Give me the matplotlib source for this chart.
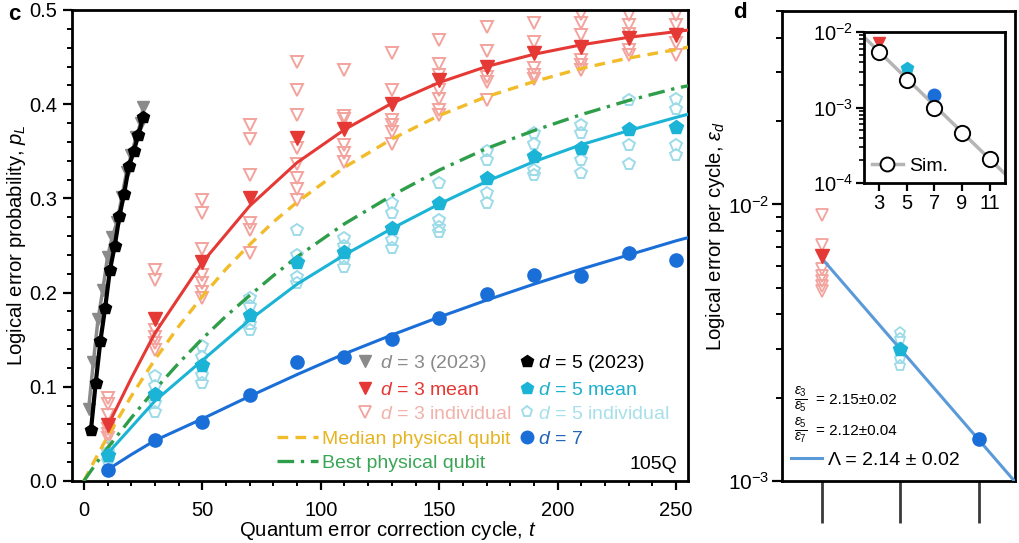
import matplotlib
matplotlib.use('Agg')
import matplotlib.pyplot as plt
from matplotlib.lines import Line2D
from matplotlib.ticker import MultipleLocator, FormatStrFormatter, NullFormatter, FixedLocator

plt.rcParams['font.family'] = ['Liberation Sans', 'DejaVu Sans']
plt.rcParams['mathtext.fontset'] = 'custom'
plt.rcParams['mathtext.rm'] = 'Liberation Sans'
plt.rcParams['mathtext.it'] = 'Liberation Sans:italic'
plt.rcParams['mathtext.bf'] = 'Liberation Sans:bold'

# ---------------- data: panel c ----------------
t_cycles = [10, 30, 50, 70, 90, 110, 130, 150, 170, 190, 210, 230, 250]
d3_mean = [0.059, 0.172, 0.232, 0.300, 0.364, 0.374, 0.400, 0.426, 0.440, 0.454, 0.461, 0.470, 0.473]
d5_mean = [0.028, 0.092, 0.123, 0.176, 0.232, 0.243, 0.269, 0.295, 0.322, 0.345, 0.354, 0.374, 0.376]
d7_vals = [0.012, 0.044, 0.063, 0.091, 0.126, 0.132, 0.151, 0.173, 0.199, 0.219, 0.218, 0.242, 0.235]

d3_individual = [
    [0.088, 0.082, 0.070, 0.055, 0.050, 0.046],
    [0.224, 0.213, 0.160, 0.153, 0.147, 0.139],
    [0.298, 0.285, 0.246, 0.219, 0.210, 0.201, 0.194],
    [0.378, 0.363, 0.325, 0.274, 0.266, 0.242],
    [0.445, 0.415, 0.388, 0.353, 0.336, 0.322, 0.310, 0.298],
    [0.436, 0.387, 0.384, 0.357, 0.348, 0.339],
    [0.454, 0.415, 0.383, 0.378, 0.371, 0.358],
    [0.468, 0.443, 0.431, 0.415, 0.405, 0.394, 0.389],
    [0.482, 0.456, 0.429, 0.424, 0.404],
    [0.486, 0.466, 0.438, 0.431, 0.427],
    [0.496, 0.486, 0.473, 0.447, 0.442, 0.436],
    [0.495, 0.484, 0.475, 0.458, 0.452],
    [0.495, 0.484, 0.465, 0.452],
]
d5_individual = [
    [0.036, 0.031, 0.025, 0.021],
    [0.111, 0.101, 0.083, 0.073],
    [0.143, 0.132, 0.112, 0.104],
    [0.194, 0.186, 0.167, 0.160],
    [0.266, 0.240, 0.217, 0.210],
    [0.258, 0.249, 0.236, 0.227],
    [0.295, 0.284, 0.256, 0.247],
    [0.316, 0.277, 0.270, 0.264],
    [0.350, 0.341, 0.306, 0.295],
    [0.369, 0.358, 0.330, 0.325],
    [0.378, 0.369, 0.341, 0.327],
    [0.404, 0.357, 0.337],
    [0.406, 0.395, 0.357, 0.346],
]

fit_t = [10, 20, 30, 50, 70, 90, 110, 130, 150, 170, 190, 210, 230, 250, 256]
d3_fit = [0.058, 0.109, 0.157, 0.232, 0.292, 0.338, 0.373, 0.401, 0.423, 0.440, 0.453, 0.463, 0.471, 0.477, 0.479]
d5_fit = [0.029, 0.057, 0.085, 0.128, 0.171, 0.209, 0.240, 0.268, 0.294, 0.318, 0.339, 0.357, 0.372, 0.386, 0.390]
d7_fit = [0.012, 0.028, 0.043, 0.066, 0.090, 0.113, 0.135, 0.155, 0.174, 0.192, 0.209, 0.225, 0.240, 0.255, 0.259]

phys_t = [0, 5, 10, 20, 30, 40, 50, 60, 70, 80, 90, 110, 130, 150, 170, 190, 210, 230, 250, 256]
median_phys = [0.0, 0.024, 0.047, 0.090, 0.129, 0.164, 0.196, 0.225, 0.251, 0.275, 0.296, 0.333, 0.363,
               0.388, 0.408, 0.424, 0.438, 0.449, 0.458, 0.461]
best_phys = [0.0, 0.018, 0.035, 0.067, 0.097, 0.125, 0.151, 0.175, 0.197, 0.218, 0.238, 0.273, 0.303,
             0.330, 0.353, 0.372, 0.389, 0.404, 0.417, 0.420]

t_2023_d5 = [3, 5, 7, 9, 11, 13, 15, 17, 19, 21, 23, 25]
p_2023_d5 = [0.054, 0.104, 0.149, 0.184, 0.224, 0.249, 0.281, 0.305, 0.334, 0.350, 0.367, 0.386]
t_2023_d3 = [2, 4, 6, 8, 10, 12, 14, 16, 18, 20, 22, 24, 25]
p_2023_d3 = [0.076, 0.126, 0.172, 0.203, 0.238, 0.259, 0.275, 0.301, 0.328, 0.346, 0.365, 0.380, 0.397]

# ---------------- data: panel d ----------------
distances = [3, 5, 7]
eps_mean = [6.5e-3, 3.0e-3, 1.42e-3]
eps3_individual = [9.18e-3, 7.16e-3, 5.82e-3, 5.51e-3, 5.28e-3, 5.07e-3, 4.87e-3]
eps5_individual = [3.44e-3, 3.26e-3, 2.76e-3, 2.61e-3]
lambda_fit_d = [3, 8]
lambda_fit_eps = [6.4e-3, 9.57e-4]

sim_d = [3, 5, 7, 9, 11]
sim_eps = [5.4e-3, 2.3e-3, 9.8e-4, 4.6e-4, 2.1e-4]
sim_fit_d = [1.9, 12.1]
sim_fit_eps = [8.6e-3, 1.33e-4]
inset_exp_eps = [7.1e-3, 3.3e-3, 1.47e-3]

# ---------------- colours ----------------
red = '#e53935'
salmon = '#f3a39d'
grey = '#8a8a8a'
cyan = '#1bb3d6'
lcyan = '#9ddbe8'
blue7 = '#1a6ed8'
yellow = '#f2bb2a'
green = '#2f9e4a'
lamblue = '#5a9ad8'

fs_tick = 14.5
fs_lab = 14.6

fig = plt.figure(figsize=(10.2, 5.43), dpi=100)
axc = fig.add_axes([0.0706, 0.1142, 0.6039, 0.8674])
axd = fig.add_axes([0.7667, 0.1142, 0.2284, 0.8655])
axi = fig.add_axes([0.847, 0.663, 0.138, 0.278])

# ---------------- panel c ----------------
for t, vals in zip(t_cycles, d3_individual):
    axc.plot([t] * len(vals), vals, ls='none', marker='v', ms=8.5, mfc='none', mec=salmon, mew=1.4, zorder=2)
for t, vals in zip(t_cycles, d5_individual):
    axc.plot([t] * len(vals), vals, ls='none', marker='p', ms=8.5, mfc='none', mec=lcyan, mew=1.4, zorder=2)

axc.plot(phys_t, median_phys, ls=(0, (3.2, 2.2)), color=yellow, lw=2.4, zorder=3)
axc.plot(phys_t, best_phys, ls=(0, (5, 2, 1, 2)), color=green, lw=2.4, zorder=3)

axc.plot(fit_t, d3_fit, color=red, lw=2.2, zorder=4)
axc.plot(fit_t, d5_fit, color=cyan, lw=2.2, zorder=4)
axc.plot(fit_t, d7_fit, color=blue7, lw=2.2, zorder=4)

axc.plot(t_cycles, d3_mean, ls='none', marker='v', ms=10, color=red, zorder=5)
axc.plot(t_cycles, d5_mean, ls='none', marker='p', ms=10, color=cyan, zorder=5)
axc.plot(t_cycles, d7_vals, ls='none', marker='o', ms=9.5, color=blue7, zorder=5)

axc.plot(t_2023_d3, p_2023_d3, color=grey, lw=2.5, marker='v', ms=8, zorder=5)
axc.plot(t_2023_d5, p_2023_d5, color='black', lw=3, marker='p', ms=9, zorder=6)

axc.set_xlim(-5, 255)
axc.set_ylim(0, 0.5)
axc.xaxis.set_major_locator(MultipleLocator(50))
axc.xaxis.set_minor_locator(MultipleLocator(10))
axc.yaxis.set_major_locator(MultipleLocator(0.1))
axc.yaxis.set_minor_locator(MultipleLocator(0.02))
axc.yaxis.set_major_formatter(FormatStrFormatter('%.1f'))
axc.tick_params(which='major', direction='out', length=6.5, width=1.6, labelsize=fs_tick, pad=4)
axc.tick_params(axis='x', which='major', pad=8)
axc.tick_params(which='minor', direction='out', length=3.5, width=1.4)
for s in axc.spines.values():
    s.set_linewidth(2)
axc.set_xlabel('Quantum error correction cycle, $t$', fontsize=fs_lab)
axc.set_ylabel('Logical error probability, $p_L$', fontsize=fs_lab)
axc.xaxis.set_label_coords(0.512, -0.080)
axc.yaxis.set_label_coords(-0.071, 0.5)

fs_leg = 14
lsp = 0.36
h1 = [Line2D([], [], ls='none', marker='v', ms=9, color=grey),
      Line2D([], [], ls='none', marker='v', ms=9, color=red),
      Line2D([], [], ls='none', marker='v', ms=8, mfc='none', mec=salmon, mew=1.3)]
leg1 = axc.legend(h1, ['$d$ = 3 (2023)', '$d$ = 3 mean', '$d$ = 3 individual'],
                  loc='upper left', bbox_to_anchor=(357 / 1020, 1 - 353 / 543), bbox_transform=fig.transFigure,
                  frameon=False, fontsize=fs_leg, handlelength=0.8, handletextpad=0.4,
                  borderpad=0, borderaxespad=0, labelspacing=lsp)
for txt, c in zip(leg1.get_texts(), [grey, red, '#f2b2ac']):
    txt.set_color(c)
axc.add_artist(leg1)

h2 = [Line2D([], [], ls=(0, (3.2, 2.2)), color=yellow, lw=2.4),
      Line2D([], [], ls=(0, (5, 2, 1, 2)), color=green, lw=2.4)]
leg2 = axc.legend(h2, ['Median physical qubit', 'Best physical qubit'],
                  loc='upper left', bbox_to_anchor=(277 / 1020, 1 - 430 / 543), bbox_transform=fig.transFigure,
                  frameon=False, fontsize=fs_leg, handlelength=2.1, handletextpad=0.2,
                  borderpad=0, borderaxespad=0, labelspacing=lsp)
for txt, c in zip(leg2.get_texts(), ['#e6b422', '#3aa655']):
    txt.set_color(c)
axc.add_artist(leg2)

h3 = [Line2D([], [], ls='none', marker='p', ms=9, color='black'),
      Line2D([], [], ls='none', marker='p', ms=9, color=cyan),
      Line2D([], [], ls='none', marker='p', ms=8, mfc='none', mec=lcyan, mew=1.3),
      Line2D([], [], ls='none', marker='o', ms=9, color=blue7)]
leg3 = axc.legend(h3, ['$d$ = 5 (2023)', '$d$ = 5 mean', '$d$ = 5 individual', '$d$ = 7'],
                  loc='upper left', bbox_to_anchor=(521 / 1020, 1 - 353 / 543), bbox_transform=fig.transFigure,
                  frameon=False, fontsize=fs_leg, handlelength=0.6, handletextpad=0.25,
                  borderpad=0, borderaxespad=0, labelspacing=lsp)
for txt, c in zip(leg3.get_texts(), ['black', '#1fb0cc', '#a8e0ea', '#2266b8']):
    txt.set_color(c)

axc.text(0.982, 0.034, '105Q', transform=axc.transAxes, ha='right', va='center', fontsize=14)
fig.text(8 / 1020, 1 - 14 / 543, 'c', fontsize=16, fontweight='bold', va='center', ha='left')

# ---------------- panel d ----------------
axd.plot([distances[0]] * len(eps3_individual), eps3_individual, ls='none', marker='v', ms=8,
         mfc='none', mec=salmon, mew=1.3, zorder=2)
axd.plot([distances[1]] * len(eps5_individual), eps5_individual, ls='none', marker='p', ms=8,
         mfc='none', mec=lcyan, mew=1.3, zorder=2)
axd.plot(lambda_fit_d, lambda_fit_eps, color=lamblue, lw=2.2, zorder=3)
axd.plot(distances[0], eps_mean[0], ls='none', marker='v', ms=10, color=red, zorder=4)
axd.plot(distances[1], eps_mean[1], ls='none', marker='p', ms=10, color=cyan, zorder=4)
axd.plot(distances[2], eps_mean[2], ls='none', marker='o', ms=9.5, color=blue7, zorder=4)

axd.set_yscale('log')
axd.set_ylim(1e-3, 0.05)
axd.set_xlim(2, 7.9)
axd.xaxis.set_major_locator(FixedLocator(distances))
axd.xaxis.set_minor_locator(FixedLocator([]))
axd.set_xticklabels([])
axd.yaxis.set_minor_formatter(NullFormatter())
axd.tick_params(axis='y', which='major', direction='out', length=7, width=1.6, labelsize=15, pad=2)
axd.tick_params(axis='y', which='minor', direction='out', length=4.5, width=1.4)
axd.tick_params(axis='x', which='major', direction='out', length=30, width=2, color='#3a3a3a')
for s in axd.spines.values():
    s.set_linewidth(2)
axd.set_ylabel(r'Logical error per cycle, $\varepsilon_d$', fontsize=fs_lab)
axd.yaxis.set_label_coords(-0.236, 0.52)

lam_h = [Line2D([], [], color=lamblue, lw=2.2)]
axd.legend(lam_h, ['Λ = 2.14 ± 0.02'], loc='upper left',
           bbox_to_anchor=(791 / 1020, 1 - 451 / 543), bbox_transform=fig.transFigure,
           frameon=False, fontsize=14, handlelength=1.6, handletextpad=0.3,
           borderpad=0, borderaxespad=0)
for frac, rest, ypix in [(r'$\frac{\varepsilon_3}{\varepsilon_5}$', '= 2.15±0.02', 400),
                         (r'$\frac{\varepsilon_5}{\varepsilon_7}$', '= 2.12±0.04', 431)]:
    axd.text(0.05, (481 - ypix) / 470, frac, transform=axd.transAxes, fontsize=14, ha='left', va='center')
    axd.text(0.145, (481 - ypix) / 470, rest, transform=axd.transAxes, fontsize=11, ha='left', va='center')
fig.text(733 / 1020, 1 - 13 / 543, 'd', fontsize=16, fontweight='bold', va='center', ha='left')

# ---------------- inset ----------------
axi.plot(sim_fit_d, sim_fit_eps, color='#b5b5b5', lw=2.5, zorder=1)
axi.plot(sim_d, sim_eps, ls='none', marker='o', ms=11, mfc='white', mec='black', mew=1.4, zorder=3)
axi.plot(distances[0], inset_exp_eps[0], ls='none', marker='v', ms=9, color=red, zorder=2)
axi.plot(distances[1], inset_exp_eps[1], ls='none', marker='p', ms=9, color=cyan, zorder=2)
axi.plot(distances[2], inset_exp_eps[2], ls='none', marker='o', ms=9, color=blue7, zorder=2)
axi.set_yscale('log')
axi.set_ylim(1e-4, 1e-2)
axi.set_xlim(1.9, 12.1)
axi.xaxis.set_major_locator(FixedLocator(sim_d))
axi.yaxis.set_minor_formatter(NullFormatter())
axi.tick_params(which='major', direction='out', length=6, width=1.6, labelsize=14.5, pad=2)
axi.tick_params(which='minor', direction='out', length=3.5, width=1.2)
for s in axi.spines.values():
    s.set_linewidth(2)
sim_h = [Line2D([], [], color='#b5b5b5', lw=2.5, marker='o', ms=10, mfc='white', mec='black', mew=1.4)]
axi.legend(sim_h, ['Sim.'], loc='lower left', frameon=False, fontsize=14, handlelength=1.6,
           handletextpad=0.3, borderpad=0.2, borderaxespad=0.2)

fig.savefig('out.png', dpi=100)
